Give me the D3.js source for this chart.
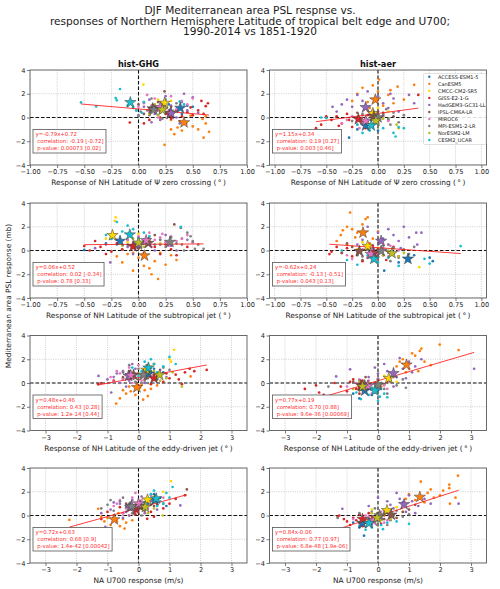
<!DOCTYPE html>
<html>
<head>
<meta charset="utf-8">
<script src="https://cdn.jsdelivr.net/npm/d3@7"></script>
<style>
  body { margin: 0; background: #fff; }
  svg { display: block; font-family: "DejaVu Sans", sans-serif; }
</style>
</head>
<body>
<div id="chart"></div>
<script>
// models + colours
var models = ['ACCESS-ESM1-5', 'CanESM5', 'CMCC-CM2-SR5', 'GISS-E2-1-G', 'HadGEM3-GC31-LL',
  'IPSL-CM6A-LR', 'MIROC6', 'MPI-ESM1-2-LR', 'NorESM2-LM', 'CESM2_UCAR'];
var modelColors = ['#1f77b4', '#ff7f0e', '#ffd700', '#d62728', '#9467bd',
  '#8c564b', '#e377c2', '#7f7f7f', '#bcbd22', '#17becf'];

var titleLines = ['DJF Mediterranean area PSL respnse vs.',
  'responses of Northern Hemisphere Latitude of tropical belt edge and U700;',
  '1990-2014 vs 1851-1920'];
var experiments = ['hist-GHG', 'hist-aer'];
var xLabels = ['Response of NH Latitude of \u03a8 zero crossing (\u2009\u00b0\u2009)',
  'Response of NH Latitude of the subtropical jet (\u2009\u00b0\u2009)',
  'Response of NH Latitude of the eddy-driven jet (\u2009\u00b0\u2009)',
  'NA U700 response (m/s)'];
var yTicks = [-4, -2, 0, 2, 4];
var latTicks = [-1, -0.75, -0.5, -0.25, 0, 0.25, 0.5, 0.75, 1];
var windTicks = [-3, -2, -1, 0, 1, 2, 3];

// regression fits, panel order: row by row, GHG then aer
var fitSlope = [-0.79, 1.15, 0.06, -0.62, 0.48, 0.77, 0.72, 0.84];
var fitIntercept = [0.72, 0.34, 0.52, 0.24, 0.46, 0.19, 0.63, -0.06];
var fitText = ['y=-0.79x+0.72', 'y=1.15x+0.34', 'y=0.06x+0.52', 'y=-0.62x+0.24',
  'y=0.48x+0.46', 'y=0.77x+0.19', 'y=0.72x+0.63', 'y=0.84x-0.06'];
var corrText = ['-0.19 [-0.72]', '0.19 [0.27]', '0.02 [-0.34]', '-0.13 [-0.51]',
  '0.43 [0.28]', '0.70 [0.88]', '0.68 [0.9]', '0.77 [0.97]'];
var pText = ['0.00073 [0.02]', '0.003 [0.46]', '0.78 [0.33]', '0.043 [0.13]',
  '1.2e-14 [0.44]', '9.6e-36 [0.00069]', '1.4e-42 [0.00042]', '6.8e-48 [1.9e-06]'];

// ensemble-mean stars, one per model
var ghgPsiStars = [[0.385,0.8],[0.42,-0.42],[0.24,1.22],[0.29,0.28],[0.3,0.36],[0.13,0.75],[0.2,0.85],[0.14,0.65],[0.22,0.65],[-0.075,1.27]];
var aerPsiStars = [[-0.12,-0.68],[-0.026,1.5],[-0.05,0.35],[-0.19,-0.14],[-0.12,0.85],[-0.04,0.1],[-0.12,-0.3],[0.0,0.0],[-0.02,-0.28],[-0.065,-0.68]];
var ghgStjStars = [[-0.17,0.8],[0.055,-0.43],[-0.24,1.28],[-0.05,0.34],[0.0,0.5],[0.09,0.62],[0.07,0.85],[0.29,0.71],[0.0,0.65],[-0.08,1.33]];
var aerStjStars = [[0.29,-0.71],[-0.145,1.5],[-0.1,0.37],[-0.04,-0.23],[0.03,0.8],[-0.18,-0.06],[-0.07,-0.3],[0.03,-0.05],[0.135,-0.23],[-0.04,-0.71]];
var ghgEdjStars = [[0.32,0.77],[-0.05,-0.37],[0.25,1.1],[0.5,0.4],[-0.32,0.6],[-0.16,0.68],[-0.25,0.65],[0.16,0.68],[0.68,0.68],[0.32,1.28]];
var aerEdjStars = [[-0.43,-0.65],[0.92,1.53],[0.35,0.4],[-0.55,-0.2],[0.5,0.82],[-0.43,-0.2],[-0.33,-0.25],[0.0,-0.17],[-0.5,-0.3],[-0.1,-0.65]];
var ghgU700Stars = [[0.53,1.3],[-0.78,-0.34],[0.29,1.33],[-0.07,0.48],[-0.27,0.7],[0.05,0.8],[0.0,1.0],[-0.22,0.77],[0.22,0.71],[0.57,1.42]];
var aerU700Stars = [[-0.5,-0.65],[1.35,1.56],[0.29,0.43],[-0.5,-0.3],[0.84,0.94],[0.43,0.06],[-0.15,-0.45],[0.05,0.0],[-0.03,-0.2],[-0.29,-0.65]];

// members, one list per model
var ghgPsiPts = [
  [[0.32,0.55],[0.45,1.0],[0.40,0.3],[0.50,0.9],[0.28,1.1]],
  [[0.24,-2.3],[0.60,-1.7],[0.65,-1.2],[0.30,-1.0],[0.36,-0.84],[0.50,-0.75],[0.44,-0.5],[0.59,-0.12],[0.62,-0.5],[0.40,-1.1],[0.55,-1.0],[0.38,-0.3],[0.62,0.1],[0.48,0.15],[0.30,-0.2],[0.33,-1.4]],
  [[0.045,2.77],[0.18,1.5],[0.30,1.4],[0.22,0.9],[0.15,0.5]],
  [[0.64,1.2],[0.62,0.95],[0.55,0.6],[0.50,0.2],[0.45,0.45],[0.40,0.1],[0.35,0.6],[0.30,-0.1],[0.25,0.3],[0.20,0.0],[0.15,0.5],[0.10,-0.2],[0.05,-0.5],[-0.08,-0.42],[0.60,0.3],[0.48,0.85],[0.22,0.75],[0.58,1.4]],
  [[0.0,0.2],[0.05,0.9],[0.1,1.5],[0.15,0.3],[0.2,-0.2],[0.25,1.8],[0.3,1.0],[0.35,0.0],[0.4,1.3],[0.45,0.6],[0.5,1.7],[0.55,0.4],[0.12,-0.4],[0.28,0.6],[0.38,-0.5],[0.42,2.0],[-0.02,0.6],[0.22,1.2]],
  [[0.24,2.2],[0.05,0.3],[0.18,1.3],[0.1,0.6],[0.3,0.9],[0.0,1.1]],
  [[0.0,0.9],[0.05,1.2],[0.1,0.4],[0.15,1.6],[0.2,0.5],[0.25,1.0],[0.3,1.8],[0.35,0.7],[0.4,1.4],[0.45,1.1],[0.18,0.0],[0.08,1.9],[0.28,0.2],[0.5,1.6],[0.12,1.0]],
  [[-0.05,0.8],[0.0,0.1],[0.05,1.3],[0.1,0.2],[0.15,1.0],[0.2,0.4],[0.25,1.5],[0.3,0.6],[0.35,1.2],[0.08,0.6],[0.18,0.9],[0.22,-0.1],[0.12,1.6],[0.4,0.8],[0.02,0.5]],
  [[0.1,0.3],[0.25,0.9],[0.18,0.2],[0.32,0.5],[0.15,1.1]],
  [[-0.53,1.27],[-0.39,0.93],[-0.21,1.64],[-0.2,1.45],[-0.17,2.4],[-0.05,0.9],[-0.02,0.6],[0.03,0.4],[0.05,1.3],[-0.1,1.0],[0.38,1.35],[0.42,1.1]]
];
var aerPsiPts = [
  [[-0.28,-1.7],[-0.2,-1.0],[-0.05,-0.8],[-0.15,-0.3],[0.0,-1.1]],
  [[0.01,3.2],[-0.05,2.7],[-0.15,2.5],[0.19,2.6],[0.35,2.75],[0.1,1.9],[-0.1,1.3],[0.05,1.0],[0.15,1.2],[-0.2,2.0],[0.0,2.2],[-0.08,0.8],[0.25,1.5],[0.12,2.3],[-0.25,1.4]],
  [[-0.1,0.6],[0.05,0.1],[0.0,0.8],[-0.15,0.2],[0.1,0.5]],
  [[-0.6,-0.9],[-0.55,-0.6],[-0.45,-0.2],[-0.4,0.1],[-0.35,-0.5],[-0.3,0.3],[-0.25,-0.8],[-0.2,0.0],[-0.15,-0.3],[-0.1,0.2],[-0.05,-0.6],[0.0,0.0],[-0.28,-0.2],[-0.38,-0.7],[0.39,1.9],[-0.5,0.1],[-0.12,-0.9],[0.05,0.4]],
  [[-0.44,0.9],[-0.4,0.5],[-0.3,1.5],[-0.2,1.9],[-0.25,0.9],[-0.15,1.4],[-0.1,2.2],[-0.05,0.6],[0.0,1.8],[0.05,1.2],[0.1,0.8],[0.15,1.6],[0.2,0.5],[0.3,1.9],[0.35,1.2],[-0.35,1.1],[-0.08,0.3],[0.12,2.0]],
  [[-0.2,0.4],[0.1,-0.2],[0.0,0.5],[-0.1,-0.3],[0.05,0.3],[0.15,0.1]],
  [[-0.3,-0.2],[-0.25,0.1],[-0.2,-0.6],[-0.15,0.2],[-0.1,-0.5],[-0.05,0.0],[0.0,-0.4],[0.05,0.1],[-0.18,-0.9],[-0.08,0.4],[0.1,-0.3],[-0.35,-0.5]],
  [[-0.25,-0.3],[-0.15,0.3],[-0.1,-0.2],[-0.05,0.5],[0.0,-0.5],[0.05,0.2],[0.1,-0.1],[0.15,0.4],[0.2,-0.4],[0.08,0.7],[-0.02,0.1],[0.12,-0.6],[0.25,0.2]],
  [[-0.1,-0.5],[0.05,-0.1],[0.18,-0.6],[0.2,-0.9],[0.0,-0.3]],
  [[0.15,-1.3],[0.17,-1.6],[0.2,-0.8],[0.25,-0.9],[-0.55,0.0],[-0.5,-0.05],[-0.15,-1.3],[-0.08,-1.1],[0.05,-0.9],[0.0,-0.5],[-0.2,-0.6]]
];
var ghgStjPts = [
  [[-0.5,0.05],[-0.25,1.0],[-0.1,0.5],[0.05,0.9],[-0.3,0.6]],
  [[0.18,-2.4],[-0.05,-1.7],[0.1,-1.5],[0.15,-0.9],[0.25,-1.2],[0.0,-0.6],[-0.1,-0.3],[-0.2,-0.5],[0.3,-0.4],[0.2,-0.2],[-0.15,-1.0],[0.05,-1.3],[0.35,-0.8],[-0.05,-0.2],[0.12,-2.0]],
  [[-0.21,2.8],[-0.22,2.5],[-0.3,1.0],[-0.1,0.7],[0.0,1.4]],
  [[-0.5,0.38],[-0.45,0.0],[-0.35,0.3],[-0.3,-0.3],[-0.2,0.6],[-0.15,0.1],[-0.1,0.9],[0.0,0.2],[0.05,-0.2],[0.1,0.6],[0.15,0.3],[0.2,-0.3],[0.25,0.5],[0.3,0.1],[-0.4,0.8],[0.35,-0.4],[-0.25,-0.1],[0.45,0.3]],
  [[-0.26,-1.0],[-0.4,0.2],[-0.2,0.9],[-0.1,0.3],[0.0,1.1],[0.1,0.6],[0.2,0.9],[0.3,0.4],[0.4,1.0],[0.45,0.9],[0.5,0.7],[0.15,0.0],[-0.05,-0.3],[0.25,1.3],[0.35,0.0],[-0.3,0.5]],
  [[0.33,2.2],[0.1,1.0],[0.2,0.5],[0.0,0.2],[0.15,1.3],[0.05,0.7]],
  [[0.0,1.2],[0.05,0.6],[0.1,1.5],[0.15,0.9],[0.2,1.1],[0.25,0.7],[0.3,1.2],[0.35,0.8],[0.4,1.0],[-0.1,0.9],[0.12,0.3],[0.22,1.4],[-0.05,0.5],[0.45,1.3],[0.28,0.4]],
  [[0.39,1.9],[0.45,1.5],[0.5,0.8],[0.52,0.14],[0.6,0.14],[0.4,0.5],[0.3,1.1],[0.25,0.3],[0.2,0.9],[0.35,0.6],[0.15,0.5],[0.48,1.2],[0.1,0.8],[0.55,0.5],[0.42,0.0]],
  [[-0.15,0.4],[0.1,0.9],[0.05,0.3],[-0.05,1.0],[0.2,0.6]],
  [[-0.2,2.4],[-0.1,2.1],[0.39,2.0],[-0.3,1.3],[-0.15,1.6],[0.0,1.0],[-0.05,1.8],[0.1,1.2],[-0.25,1.0],[0.05,1.5]]
];
var aerStjPts = [
  [[0.53,-0.9],[0.5,-0.6],[0.06,-1.7],[0.2,-1.0],[0.35,-0.4]],
  [[-0.27,3.2],[-0.1,2.8],[-0.12,2.65],[-0.36,1.3],[-0.34,1.7],[-0.3,2.0],[-0.25,1.8],[-0.2,1.5],[-0.05,1.0],[-0.15,2.2],[-0.4,0.8],[0.0,1.6],[-0.08,0.6],[-0.22,1.1],[-0.3,0.5]],
  [[0.4,-1.4],[-0.15,0.7],[0.0,0.2],[-0.2,0.1],[0.1,0.5]],
  [[-0.47,-0.3],[-0.45,-0.1],[-0.3,0.2],[-0.25,-0.5],[-0.2,0.0],[-0.1,-0.6],[0.0,0.1],[0.05,-0.4],[0.1,-0.1],[0.15,0.3],[-0.15,-0.9],[-0.35,-0.2],[0.2,-0.5],[-0.05,0.4],[0.08,-0.8],[-0.4,0.3]],
  [[0.25,2.0],[0.37,1.5],[0.42,1.5],[0.38,0.5],[-0.1,2.0],[0.0,1.5],[0.05,1.0],[0.1,0.5],[0.15,1.3],[0.2,0.8],[-0.05,0.2],[0.1,1.8],[-0.15,0.9],[0.3,1.1],[0.0,-0.3],[0.22,0.2],[-0.2,0.5],[0.08,0.0]],
  [[-0.25,0.3],[-0.3,0.6],[-0.2,-0.4],[-0.1,0.1],[-0.35,-0.2],[-0.15,-0.8]],
  [[-0.3,-0.4],[-0.2,-0.1],[-0.1,-0.6],[0.0,-0.2],[0.1,-0.5],[0.05,0.2],[-0.15,0.1],[0.15,-0.3],[-0.05,-0.9],[0.2,0.0],[-0.25,-0.7],[0.12,0.4]],
  [[-0.2,-0.3],[-0.1,0.3],[0.0,-0.5],[0.05,0.4],[0.1,-0.2],[0.15,0.2],[0.2,-0.6],[0.25,0.1],[-0.05,0.0],[0.3,-0.3],[0.12,-0.9],[-0.15,-0.5],[0.35,0.3]],
  [[0.2,-0.5],[0.1,0.0],[0.25,-0.2],[0.05,-0.4],[0.3,-0.8]],
  [[0.8,0.37],[-0.2,-1.2],[0.45,-0.7],[0.5,-1.1],[-0.35,0.0],[-0.3,-0.8],[0.0,-1.0],[0.1,-0.6],[0.2,-1.3],[-0.1,-0.4],[0.3,-0.9]]
];
var ghgEdjPts = [
  [[0.5,1.2],[0.1,0.5],[0.8,0.9],[0.2,1.0],[0.6,0.3]],
  [[-0.72,-1.73],[-0.6,-1.3],[-0.4,-0.9],[-0.25,-0.7],[-0.1,-1.0],[0.05,-0.4],[0.2,-0.6],[0.3,-1.1],[-0.3,-0.3],[0.1,-0.15],[0.4,-0.5],[1.68,0.55],[-0.5,-0.6],[0.15,-1.4],[0.6,-0.2]],
  [[1.15,2.8],[1.0,2.0],[1.05,1.8],[0.4,1.4],[0.0,0.8]],
  [[2.2,1.1],[1.65,1.2],[1.5,0.9],[1.8,1.0],[1.2,0.7],[1.0,0.4],[0.8,0.1],[0.6,0.6],[0.4,-0.1],[0.2,0.3],[-1.3,-0.1],[-1.2,0.0],[-0.8,0.2],[-0.5,0.4],[0.0,-0.2],[1.3,0.3],[0.9,0.8],[1.4,-0.1]],
  [[-1.29,0.6],[-0.88,-0.8],[-1.0,0.3],[-0.7,0.8],[-0.5,1.0],[-0.3,0.2],[-0.1,1.2],[0.1,0.7],[0.3,1.5],[0.5,0.3],[0.7,1.1],[-0.6,0.0],[-0.2,1.6],[0.9,0.5],[-0.4,-0.3],[0.2,0.0],[-0.8,0.5]],
  [[0.5,1.6],[-0.3,1.0],[0.0,0.3],[0.2,0.9],[-0.5,0.5],[0.3,0.4]],
  [[-0.9,0.5],[-0.7,1.0],[-0.5,0.3],[-0.3,1.3],[-0.1,0.8],[0.1,0.2],[0.3,1.1],[-0.6,0.8],[-0.2,0.0],[0.0,1.5],[-0.4,0.7],[0.2,0.6],[-0.8,0.1],[0.4,0.9]],
  [[-0.5,0.9],[-0.2,0.4],[0.0,1.2],[0.2,0.2],[0.4,1.0],[0.6,0.5],[0.8,1.3],[-0.3,1.5],[0.1,0.7],[0.3,0.0],[0.5,1.6],[-0.1,0.1],[0.7,0.8],[1.0,1.1]],
  [[1.4,-0.3],[0.9,0.4],[0.5,1.0],[0.7,0.2],[1.1,0.9]],
  [[0.2,1.8],[0.5,1.6],[1.0,2.2],[0.8,1.4],[0.1,1.0],[0.6,0.9],[-0.2,1.3],[0.4,2.0],[1.2,1.6],[0.0,0.6]]
];
var aerEdjPts = [
  [[-0.8,-0.9],[-0.2,-1.0],[-0.5,-0.3],[0.0,-0.6],[-0.6,-1.3]],
  [[1.99,3.23],[2.6,2.77],[1.35,2.7],[1.4,2.9],[1.2,2.3],[0.8,2.0],[1.0,1.2],[0.6,1.4],[1.5,1.8],[0.5,0.8],[1.7,1.5],[1.1,2.5],[0.7,1.8],[0.9,0.9],[1.3,1.0]],
  [[0.5,0.8],[0.0,0.2],[0.2,0.6],[0.6,0.1],[-0.3,0.0]],
  [[-2.36,-0.5],[-1.9,-0.8],[-1.75,-1.0],[-2.0,-0.2],[-1.0,-0.7],[-1.2,-0.3],[-0.9,0.1],[-0.7,-0.5],[-0.5,0.2],[-0.3,-0.4],[-0.1,0.0],[0.1,-0.3],[-0.6,-0.9],[-0.4,-0.1],[0.3,0.1],[-1.4,0.0],[-0.8,0.3]],
  [[3.1,1.2],[-0.9,1.15],[-1.35,0.55],[1.0,1.8],[1.2,1.4],[0.8,1.2],[0.6,0.5],[0.3,1.0],[0.2,1.6],[0.0,0.8],[-0.3,0.5],[0.4,0.2],[0.9,0.4],[1.4,2.0],[0.7,2.1],[-0.1,1.3],[1.1,0.9],[0.5,-0.3]],
  [[-0.8,0.1],[-0.2,-0.4],[0.0,0.3],[-0.6,-0.6],[0.2,-0.1],[-0.4,0.5]],
  [[-1.0,-0.3],[-0.7,0.0],[-0.5,-0.6],[-0.3,0.2],[-0.1,-0.4],[0.1,0.0],[0.3,-0.5],[-0.6,0.3],[-0.2,-0.9],[0.0,0.4],[0.2,-0.2],[-0.4,-0.1]],
  [[-1.6,-0.3],[-0.6,0.2],[-0.3,-0.4],[0.0,0.3],[0.2,-0.5],[0.4,0.1],[0.6,-0.2],[0.8,0.3],[-0.1,-0.8],[0.3,-0.9],[0.1,0.0],[0.5,0.5],[-0.4,0.0],[0.9,-0.4]],
  [[-0.8,-0.5],[-0.3,0.0],[-0.1,-0.4],[-0.6,0.1],[0.1,-0.2]],
  [[-0.55,-1.35],[0.06,-1.15],[-0.3,-1.0],[0.2,-0.9],[-0.2,-0.4],[0.1,-0.5],[-0.7,-0.8],[0.3,-1.2],[0.0,-1.5],[-0.4,-0.5]]
];
var ghgU700Pts = [
  [[0.7,1.5],[0.3,1.0],[0.9,0.8],[0.5,1.8],[0.1,0.9]],
  [[-2.23,-0.37],[-1.3,0.57],[-1.1,-0.5],[-1.0,-0.2],[-0.9,-0.8],[-0.8,0.0],[-0.7,-0.5],[-0.6,-0.9],[-0.5,-0.3],[-0.4,-0.6],[-0.3,0.0],[-0.2,-0.4],[-1.2,-0.1],[-0.65,0.2],[-0.45,-1.1]],
  [[1.05,2.9],[0.8,2.0],[0.5,1.6],[0.2,0.8],[0.0,1.2]],
  [[1.5,1.7],[1.2,1.4],[1.0,1.0],[0.8,0.6],[0.6,0.9],[0.4,0.3],[0.28,-0.28],[0.1,0.6],[-0.1,0.1],[-0.3,0.5],[-0.5,0.2],[-0.8,-0.2],[-1.0,0.3],[-1.2,-0.3],[0.2,1.1],[-0.2,0.9],[0.5,-0.1],[-0.6,0.7]],
  [[-1.07,-0.96],[1.35,0.85],[-1.2,0.2],[-0.9,0.5],[-0.6,1.0],[-0.4,0.3],[-0.2,1.3],[0.0,0.7],[0.2,0.2],[0.4,1.2],[0.6,0.5],[-0.8,1.1],[-0.5,-0.2],[0.1,1.6],[0.8,1.0],[-0.3,0.0]],
  [[1.56,2.2],[0.3,1.2],[-0.2,0.5],[0.2,0.4],[-0.4,1.0],[0.5,0.8]],
  [[-0.8,0.8],[-0.6,1.3],[-0.4,0.6],[-0.2,1.5],[0.0,0.4],[0.2,1.1],[0.4,1.7],[0.6,1.2],[-0.5,0.2],[-0.1,1.9],[0.3,0.6],[-0.7,1.0],[0.1,1.3],[0.8,1.5]],
  [[-1.2,0.6],[-1.0,0.9],[-0.8,0.4],[-0.6,1.2],[-0.4,0.7],[-0.2,0.2],[0.0,1.1],[0.2,0.5],[-0.5,1.5],[-0.3,1.0],[0.1,0.0],[-0.9,1.3],[0.4,0.9],[-0.1,0.5]],
  [[0.78,0.0],[0.5,0.6],[0.0,1.0],[0.3,0.2],[0.6,1.1]],
  [[1.1,2.4],[0.9,1.9],[0.7,1.2],[0.4,1.8],[0.8,1.0],[0.3,1.4],[1.0,1.5],[0.5,2.1],[0.2,1.1],[0.6,0.8]]
];
var aerU700Pts = [
  [[-0.45,-1.7],[-0.8,-0.6],[-0.3,-0.3],[-0.6,-1.0],[-0.2,-0.8]],
  [[2.58,3.35],[1.38,2.85],[2.3,2.6],[2.3,2.3],[2.1,2.1],[2.32,1.0],[2.0,1.7],[1.8,1.5],[1.6,1.9],[1.2,1.3],[1.0,1.8],[1.5,1.1],[0.9,1.4],[1.7,2.2],[2.5,1.5]],
  [[0.6,0.7],[0.0,0.2],[0.4,0.0],[-0.2,0.5],[0.8,0.3]],
  [[-1.3,-0.1],[-1.25,0.0],[-1.0,-0.5],[-0.8,-0.2],[-0.6,0.1],[-0.4,-0.6],[-0.2,-0.1],[0.0,-0.4],[0.2,0.0],[-0.9,-0.8],[-0.7,-0.4],[-0.3,0.2],[0.1,-0.7],[-1.1,-0.3],[-0.5,-0.9],[0.4,-0.2]],
  [[2.6,1.0],[-1.15,0.57],[0.0,1.5],[0.3,1.2],[0.5,0.6],[0.7,1.4],[0.9,0.3],[1.1,1.2],[1.3,0.8],[1.5,1.4],[0.6,1.9],[1.0,1.7],[0.2,0.4],[1.7,1.0],[0.4,0.9],[1.2,0.2],[0.8,1.1],[-0.3,0.8]],
  [[0.8,0.3],[0.2,-0.3],[0.6,-0.2],[1.0,0.5],[0.0,0.2],[1.2,0.9]],
  [[-0.8,-0.3],[-0.6,-0.7],[-0.4,0.0],[-0.2,-0.9],[0.0,-0.2],[0.2,-0.6],[0.4,0.1],[-0.5,-0.2],[0.1,0.3],[-0.1,-0.5],[0.3,-0.4],[-0.3,-0.1]],
  [[-1.3,-0.2],[-0.6,0.2],[-0.4,-0.3],[-0.2,0.3],[0.0,-0.5],[0.2,0.2],[0.4,-0.4],[0.6,0.4],[0.8,-0.1],[-0.1,0.6],[0.3,-0.8],[1.0,0.1],[0.1,-0.2],[0.5,0.0]],
  [[-0.3,-0.5],[0.2,0.1],[0.1,-0.4],[-0.2,0.2],[0.4,-0.3]],
  [[0.16,-1.15],[1.0,-0.7],[-0.6,-0.9],[-0.4,-1.2],[-0.1,-0.4],[0.1,-0.8],[-0.5,-0.4],[0.3,-0.6],[-0.2,-1.0],[0.6,-0.5]]
];

var panelPts = [ghgPsiPts, aerPsiPts, ghgStjPts, aerStjPts, ghgEdjPts, aerEdjPts, ghgU700Pts, aerU700Pts];
var panelStars = [ghgPsiStars, aerPsiStars, ghgStjStars, aerStjStars, ghgEdjStars, aerEdjStars, ghgU700Stars, aerU700Stars];

var w = 500, h = 589;
var colLeft = [30, 269.5], plotW = 217;
var rowTop = [70, 203, 335.5, 468], plotH = 95;

var svg = d3.select('#chart').append('svg').attr('width', w).attr('height', h);

// title, one text per line
svg.selectAll('text.title').data(titleLines).enter().append('text')
  .attr('class', 'title')
  .attr('x', 250)
  .attr('y', function(d, i) { return 14.2 + i * 10.6; })
  .attr('text-anchor', 'middle').attr('fill', '#1a1a1a')
  .style('font-size', '10.6px')
  .text(function(d) { return d; });

svg.append('text')
  .attr('transform', 'translate(10.5,296) rotate(-90)')
  .attr('text-anchor', 'middle').attr('fill', '#1a1a1a')
  .style('font-size', '7.4px')
  .text('Mediterranean area PSL response (mb)');

d3.range(8).forEach(function(p) {
  var row = Math.floor(p / 2), col = p % 2;
  var x0 = colLeft[col], y0 = rowTop[row];
  var xdom = row < 2 ? (col === 0 ? [-1, 1] : [-1.05, 1.05]) : [-3.5, 3.5];
  var ticks = row < 2 ? latTicks : windTicks;
  var xscale = d3.scaleLinear().domain(xdom).range([x0, x0 + plotW]);
  var yscale = d3.scaleLinear().domain([-4, 4]).range([y0 + plotH, y0]);

  var g = svg.append('g').attr('class', 'panel' + p);
  g.append('clipPath').attr('id', 'clip' + p).append('rect')
    .attr('x', x0).attr('y', y0).attr('width', plotW).attr('height', plotH);
  var inner = g.append('g').attr('clip-path', 'url(#clip' + p + ')');

  // grid
  inner.selectAll('line.gx').data(ticks).enter().append('line')
    .attr('x1', function(d) { return xscale(d); }).attr('x2', function(d) { return xscale(d); })
    .attr('y1', y0).attr('y2', y0 + plotH)
    .attr('stroke', '#b8b8b8').attr('stroke-width', 0.7).attr('stroke-dasharray', '1,1.3');
  inner.selectAll('line.gy').data(yTicks).enter().append('line')
    .attr('y1', function(d) { return yscale(d); }).attr('y2', function(d) { return yscale(d); })
    .attr('x1', x0).attr('x2', x0 + plotW)
    .attr('stroke', '#b8b8b8').attr('stroke-width', 0.7).attr('stroke-dasharray', '1,1.3');

  // zero lines
  inner.append('line').attr('x1', xscale(0)).attr('x2', xscale(0)).attr('y1', y0).attr('y2', y0 + plotH)
    .attr('stroke', '#111').attr('stroke-width', 1.1).attr('stroke-dasharray', '3.5,2');
  inner.append('line').attr('x1', x0).attr('x2', x0 + plotW).attr('y1', yscale(0)).attr('y2', yscale(0))
    .attr('stroke', '#111').attr('stroke-width', 1.1).attr('stroke-dasharray', '3.5,2');

  // members
  panelPts[p].forEach(function(pts, m) {
    inner.selectAll('circle.m' + m).data(pts).enter().append('circle')
      .attr('cx', function(d) { return xscale(d[0]); })
      .attr('cy', function(d) { return yscale(d[1]); })
      .attr('r', 1.35)
      .attr('fill', modelColors[m]);
  });

  // fit line over the members' x range
  var allX = panelPts[p].flat().map(function(d) { return d[0]; });
  var ext = d3.extent(allX);
  inner.append('line')
    .attr('x1', xscale(ext[0])).attr('y1', yscale(fitSlope[p] * ext[0] + fitIntercept[p]))
    .attr('x2', xscale(ext[1])).attr('y2', yscale(fitSlope[p] * ext[1] + fitIntercept[p]))
    .attr('stroke', '#ff1a1a').attr('stroke-opacity', 0.85).attr('stroke-width', 1);

  // model means
  var star = d3.symbol().type(d3.symbolStar).size(40);
  inner.selectAll('path.star').data(panelStars[p]).enter().append('path')
    .attr('transform', function(d) { return 'translate(' + xscale(d[0]) + ',' + yscale(d[1]) + ')'; })
    .attr('d', star)
    .attr('fill', function(d, i) { return modelColors[i]; })
    .attr('stroke', '#3a3a3a').attr('stroke-width', 0.5);

  // stats box
  var lines = [fitText[p], ' correlation: ' + corrText[p], ' p-value: ' + pText[p]];
  var box = g.append('g').attr('transform', 'translate(' + (x0 + 3) + ',' + (y0 + 59.5) + ')');
  var boxRect = box.append('rect').attr('height', 23.5)
    .attr('fill', '#fff').attr('stroke', '#555').attr('stroke-width', 0.8);
  var bt = box.append('text').attr('fill', '#ff2a2a').style('font-size', '5.4px')
    .attr('xml:space', 'preserve');
  bt.selectAll('tspan').data(lines).enter().append('tspan')
    .attr('x', 2.5).attr('y', function(d, i) { return 6.8 + i * 6.9; })
    .style('white-space', 'pre')
    .text(function(d) { return d; });
  var bw = bt.node().getBBox().width;
  boxRect.attr('width', bw + 5);

  // frame
  g.append('rect').attr('x', x0).attr('y', y0).attr('width', plotW).attr('height', plotH)
    .attr('fill', 'none').attr('stroke', '#5a5a5a').attr('stroke-width', 0.9);

  // axes
  var xfmt = row < 2 ? d3.format('.2f') : d3.format('d');
  var xaxis = d3.axisBottom(xscale).tickValues(ticks).tickFormat(xfmt).tickSize(3).tickPadding(1.5);
  var yaxis = d3.axisLeft(yscale).tickValues(yTicks).tickSize(3).tickPadding(1.5);
  var gx = g.append('g').attr('transform', 'translate(0,' + (y0 + plotH) + ')').call(xaxis);
  var gy = g.append('g').attr('transform', 'translate(' + x0 + ',0)').call(yaxis);
  [gx, gy].forEach(function(a) {
    a.select('.domain').remove();
    a.selectAll('line').attr('stroke', '#5a5a5a').attr('stroke-width', 0.8);
    a.selectAll('text').attr('fill', '#1a1a1a').style('font-size', '6.6px')
      .style('font-family', '"DejaVu Sans", sans-serif');
  });

  g.append('text').attr('x', x0 + plotW / 2).attr('y', y0 + plotH + 20)
    .attr('text-anchor', 'middle').attr('fill', '#1a1a1a').style('font-size', '7.4px')
    .text(xLabels[row]);

  if (row === 0) {
    g.append('text').attr('x', x0 + plotW / 2).attr('y', y0 - 3.5)
      .attr('text-anchor', 'middle').attr('fill', '#111').style('font-size', '8.2px')
      .style('font-weight', 'bold').text(experiments[col]);
  }
});

// legend in the top-right panel
var leg = svg.append('g').attr('transform', 'translate(423.5,73.5)');
leg.append('rect').attr('width', 62.5).attr('height', 71)
  .attr('fill', '#fff').attr('fill-opacity', 0.85)
  .attr('stroke', '#cccccc').attr('stroke-width', 0.6).attr('rx', 1);
var items = leg.selectAll('g.item').data(models).enter().append('g')
  .attr('transform', function(d, i) { return 'translate(0,' + (3.3 + i * 7.03) + ')'; });
items.append('circle').attr('cx', 5.8).attr('cy', 0).attr('r', 1.2)
  .attr('fill', function(d, i) { return modelColors[i]; });
items.append('text').attr('x', 14.5).attr('y', 1.8).attr('fill', '#1a1a1a')
  .style('font-size', '5px').text(function(d) { return d; });
</script>
</body>
</html>
